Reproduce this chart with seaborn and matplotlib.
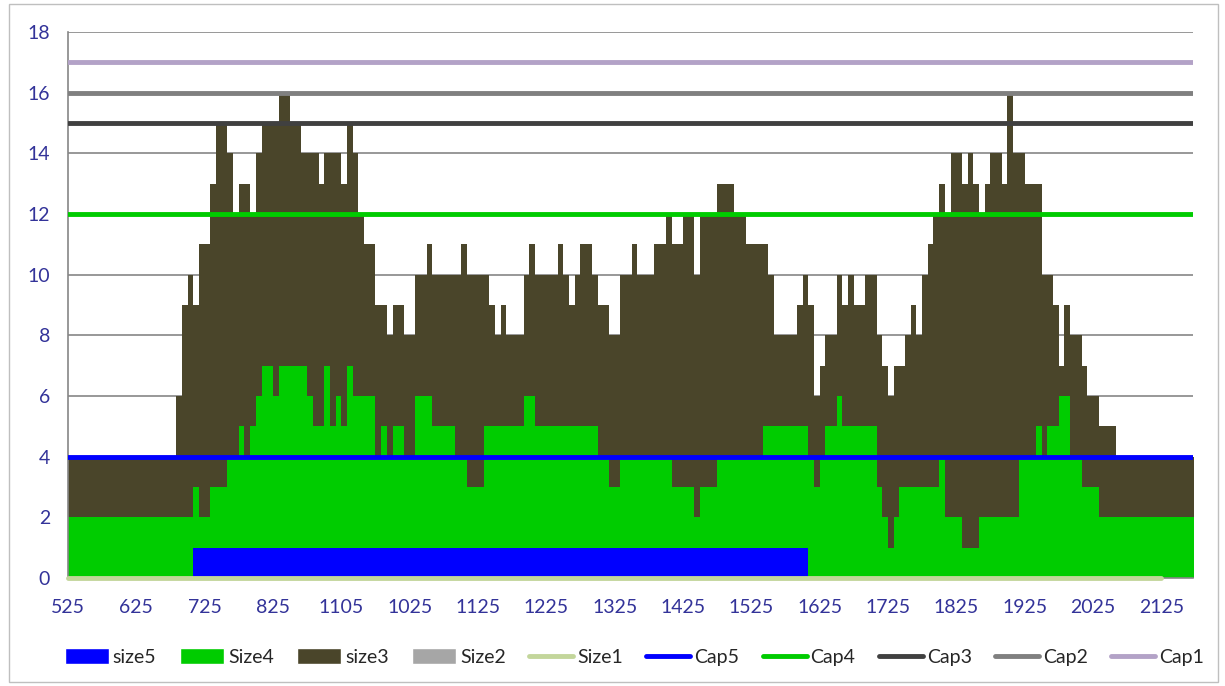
import numpy as np
import matplotlib
matplotlib.use('Agg')
import matplotlib.pyplot as plt
import seaborn as sns
from matplotlib.patches import Patch, Rectangle
from matplotlib.lines import Line2D

# Style first, then the font list (set_theme resets font.family)
sns.set_theme(style='white')
plt.rcParams['font.family'] = ['Lato', 'DejaVu Sans']

# Category axis: one label every 12 five-minute slots
tick_labels = ['525', '625', '725', '825', '1105', '1025', '1125', '1225', '1325',
               '1425', '1525', '1625', '1725', '1825', '1925', '2025', '2125']
tick_step = 12

# Series values per slot
size5 = [0, 0, 0, 0, 0, 0, 0, 0, 0, 0,
         0, 0, 0, 0, 0, 0, 0, 0, 0, 0,
         0, 0, 1, 1, 1, 1, 1, 1, 1, 1,
         1, 1, 1, 1, 1, 1, 1, 1, 1, 1,
         1, 1, 1, 1, 1, 1, 1, 1, 1, 1,
         1, 1, 1, 1, 1, 1, 1, 1, 1, 1,
         1, 1, 1, 1, 1, 1, 1, 1, 1, 1,
         1, 1, 1, 1, 1, 1, 1, 1, 1, 1,
         1, 1, 1, 1, 1, 1, 1, 1, 1, 1,
         1, 1, 1, 1, 1, 1, 1, 1, 1, 1,
         1, 1, 1, 1, 1, 1, 1, 1, 1, 1,
         1, 1, 1, 1, 1, 1, 1, 1, 1, 1,
         1, 1, 1, 1, 1, 1, 1, 1, 1, 1,
         0, 0, 0, 0, 0, 0, 0, 0, 0, 0,
         0, 0, 0, 0, 0, 0, 0, 0, 0, 0,
         0, 0, 0, 0, 0, 0, 0, 0, 0, 0,
         0, 0, 0, 0, 0, 0, 0, 0, 0, 0,
         0, 0, 0, 0, 0, 0, 0, 0, 0, 0,
         0, 0, 0, 0, 0, 0, 0, 0, 0, 0,
         0, 0, 0, 0, 0, 0, 0, 0]

size4 = [2, 2, 2, 2, 2, 2, 2, 2, 2, 2,
         2, 2, 2, 2, 2, 2, 2, 2, 2, 2,
         2, 2, 3, 2, 2, 3, 3, 3, 4, 4,
         5, 4, 5, 6, 7, 7, 6, 7, 7, 7,
         7, 7, 6, 5, 5, 7, 5, 6, 5, 7,
         6, 6, 6, 6, 4, 5, 4, 5, 5, 4,
         4, 6, 6, 6, 5, 5, 5, 5, 4, 4,
         3, 3, 3, 5, 5, 5, 5, 5, 5, 5,
         6, 6, 5, 5, 5, 5, 5, 5, 5, 5,
         5, 5, 5, 4, 4, 3, 3, 4, 4, 4,
         4, 4, 4, 4, 4, 4, 3, 3, 3, 3,
         2, 3, 3, 3, 4, 4, 4, 4, 4, 4,
         4, 4, 5, 5, 5, 5, 5, 5, 5, 5,
         4, 3, 4, 5, 5, 6, 5, 5, 5, 5,
         5, 5, 3, 2, 1, 2, 3, 3, 3, 3,
         3, 3, 3, 4, 2, 2, 2, 1, 1, 1,
         2, 2, 2, 2, 2, 2, 2, 4, 4, 4,
         5, 4, 5, 5, 6, 6, 4, 4, 3, 3,
         3, 2, 2, 2, 2, 2, 2, 2, 2, 2,
         2, 2, 2, 2, 2, 2, 2, 2]

size3 = [4, 4, 4, 4, 4, 4, 4, 4, 4, 4,
         4, 4, 4, 4, 4, 4, 4, 4, 4, 6,
         9, 10, 9, 11, 11, 13, 15, 15, 14, 12,
         13, 13, 12, 14, 15, 15, 15, 16, 16, 15,
         15, 14, 14, 14, 13, 14, 14, 14, 13, 15,
         14, 12, 11, 11, 9, 9, 8, 9, 9, 8,
         8, 10, 10, 11, 10, 10, 10, 10, 10, 11,
         10, 10, 10, 10, 9, 8, 9, 8, 8, 8,
         10, 11, 10, 10, 10, 10, 11, 10, 9, 10,
         11, 11, 10, 9, 9, 8, 8, 10, 10, 11,
         10, 10, 10, 11, 11, 12, 11, 11, 12, 12,
         10, 12, 12, 12, 13, 13, 13, 12, 12, 11,
         11, 11, 11, 10, 8, 8, 8, 8, 9, 10,
         9, 6, 7, 8, 8, 10, 9, 10, 9, 9,
         10, 10, 8, 7, 6, 7, 7, 8, 9, 8,
         10, 11, 12, 13, 12, 14, 14, 13, 14, 13,
         12, 13, 14, 14, 13, 16, 14, 14, 13, 13,
         13, 10, 10, 9, 7, 9, 8, 8, 7, 6,
         6, 5, 5, 5, 4, 4, 4, 4, 4, 4,
         4, 4, 4, 4, 4, 4, 4, 4]

# Size1 is a flat line at zero, ending at the 2125 label
size1 = [0, 0, 0, 0, 0, 0, 0, 0, 0, 0, 0, 0, 0, 0, 0, 0, 0]

# Capacity lines
cap_names = ['Cap5', 'Cap4', 'Cap3', 'Cap2', 'Cap1']
cap_values = [4, 12, 15, 16, 17]

# Colours
area_colors = {'size5': '#0000FF', 'Size4': '#00CC00', 'size3': '#4A452A', 'Size2': '#A6A6A6'}
cap_colors = {'Cap5': '#0000FF', 'Cap4': '#00CC00', 'Cap3': '#404040',
              'Cap2': '#808080', 'Cap1': '#B3A2C7'}
size1_color = '#C3D69B'
grid_color = '#868686'
label_color = '#333399'


def step_area(ax, values, color):
    """Fill a stepped area from 0 up to each slot's value."""
    vals = np.asarray(values, dtype=float)
    x = np.arange(len(vals) + 1)
    y = np.append(vals, vals[-1])
    ax.fill_between(x, 0, y, step='post', color=color, linewidth=0, zorder=2)


fig = plt.figure(figsize=(12.25, 6.86), dpi=100)
ax = fig.add_axes([0.0555, 0.1574, 0.918, 0.796])

# Areas, back to front
step_area(ax, size3, area_colors['size3'])
step_area(ax, size4, area_colors['Size4'])
step_area(ax, size5, area_colors['size5'])

# Cap lines on top of the areas
for name, val in zip(cap_names, cap_values):
    ax.axhline(val, color=cap_colors[name], lw=3.5, solid_capstyle='round', zorder=4)

# Size1 line along the bottom
tick_pos = np.arange(len(tick_labels)) * tick_step
sns.lineplot(x=tick_pos, y=size1, ax=ax, color=size1_color, lw=3.5,
             solid_capstyle='round', zorder=5, clip_on=False, legend=False)

n_slots = len(size3)
ax.set_xlim(0, n_slots - 0.5)
ax.set_ylim(0, 18)
ax.set_yticks(range(0, 19, 2))
ax.set_xticks(tick_pos)
ax.set_xticklabels(tick_labels)
ax.set_xlabel('')
ax.set_ylabel('')

ax.yaxis.grid(True, color=grid_color, lw=1.2, zorder=1)
ax.xaxis.grid(False)
ax.set_axisbelow(True)
for side in ['top', 'right']:
    ax.spines[side].set_visible(False)
for side in ['left', 'bottom']:
    ax.spines[side].set_color(grid_color)
    ax.spines[side].set_linewidth(1.2)

ax.tick_params(axis='both', direction='out', length=5, width=1.2, color=grid_color,
               labelcolor=label_color, labelsize=14)
ax.tick_params(axis='y', pad=8)
ax.tick_params(axis='x', pad=10)

# Legend along the bottom, Excel order
handles = [
    Patch(facecolor=area_colors['size5'], label='size5'),
    Patch(facecolor=area_colors['Size4'], label='Size4'),
    Patch(facecolor=area_colors['size3'], label='size3'),
    Patch(facecolor=area_colors['Size2'], label='Size2'),
    Line2D([], [], color=size1_color, lw=3.5, label='Size1'),
]
for name in cap_names:
    handles.append(Line2D([], [], color=cap_colors[name], lw=3.5, label=name))

fig.legend(handles=handles, loc='center', bbox_to_anchor=(0.518, 0.042), ncol=10,
           frameon=False, fontsize=14, handlelength=2.27, handleheight=0.85,
           handletextpad=0.2, columnspacing=1.2)

# Light chart border
fig.patches.append(Rectangle((0.0073, 0.006), 0.987, 0.988, transform=fig.transFigure,
                             fill=False, edgecolor='#BFBFBF', lw=1))

fig.savefig('out.png', dpi=100)
